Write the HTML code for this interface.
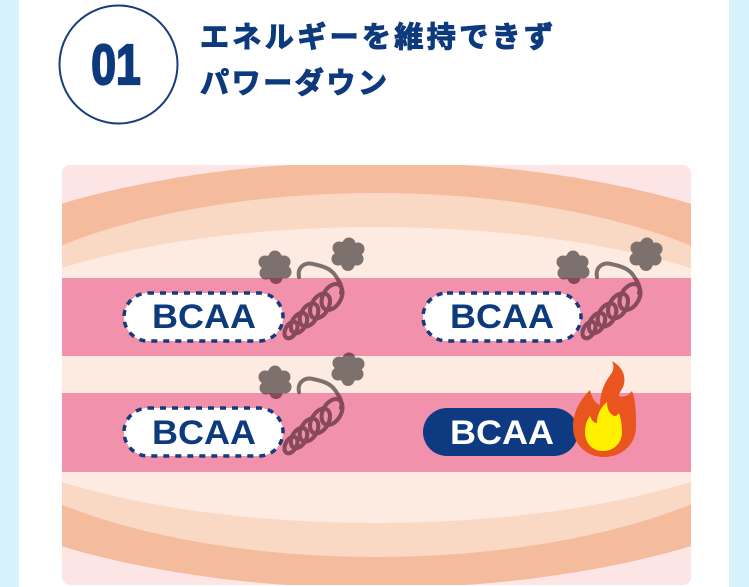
<!DOCTYPE html>
<html><head><meta charset="utf-8">
<style>
html,body{margin:0;padding:0;background:#d7f2fb;}
body{width:749px;height:587px;overflow:hidden;position:relative;}
svg{position:absolute;left:0;top:0;}
</style></head>
<body>
<svg width="749" height="587" viewBox="0 0 749 587" xmlns="http://www.w3.org/2000/svg">
  <defs>
    <clipPath id="box"><rect x="62" y="165" width="629" height="420" rx="8"/></clipPath>
    <clipPath id="stripes">
      <rect x="62" y="278" width="629" height="78"/>
      <rect x="62" y="393" width="629" height="79"/>
    </clipPath>
    <g id="grp">
      <g fill="currentColor">
        <circle cx="275" cy="267" r="13.5"/>
        <circle cx="275" cy="257" r="6.5"/>
        <circle cx="284" cy="262" r="6.5"/>
        <circle cx="285" cy="272" r="6.5"/>
        <circle cx="276" cy="277.5" r="6.5"/>
        <circle cx="266" cy="273" r="6.5"/>
        <circle cx="265" cy="262" r="6.5"/>
        <circle cx="348" cy="254" r="13.5"/>
        <circle cx="349" cy="244" r="6.5"/>
        <circle cx="358" cy="249" r="6.5"/>
        <circle cx="357" cy="259" r="6.5"/>
        <circle cx="348" cy="264.5" r="6.5"/>
        <circle cx="338" cy="259" r="6.5"/>
        <circle cx="339" cy="248" r="6.5"/>
      </g>
      <g fill="none" stroke="currentColor" stroke-width="4" stroke-linecap="round">
        <path d="M299,277 C297,267 305,262 313,264 C322,266 330,268 335,275 C340,282 343,288 341,293"/>
        <ellipse cx="332" cy="297" rx="14" ry="9" transform="rotate(-60 332 297)"/>
        <ellipse cx="320" cy="306" rx="13.5" ry="8.5" transform="rotate(-60 320 306)"/>
        <ellipse cx="309" cy="315" rx="12.5" ry="8" transform="rotate(-60 309 315)"/>
        <ellipse cx="299" cy="323" rx="11" ry="7" transform="rotate(-60 299 323)"/>
        <ellipse cx="291" cy="330" rx="9" ry="5.5" transform="rotate(-60 291 330)"/>
      </g>
    </g>
  </defs>

  <!-- white panel -->
  <rect x="19" y="0" width="710" height="587" fill="#ffffff"/>

  <!-- header -->
  <circle cx="118.5" cy="64.5" r="59" fill="none" stroke="#173d7c" stroke-width="2"/>
  <text transform="translate(116,84) scale(0.78,1)" text-anchor="middle" font-family="Liberation Sans, sans-serif" font-weight="700" font-size="57" fill="#0d3a7c" stroke="#0d3a7c" stroke-width="2.2">01</text>
  <text x="200" y="47" textLength="353" lengthAdjust="spacing" font-family="'Liberation Sans','Noto Sans CJK JP',sans-serif" font-weight="700" font-size="29" fill="#0d3a7c" stroke="#0d3a7c" stroke-width="1.1">エネルギーを維持できず</text>
  <text x="200" y="93" textLength="187" lengthAdjust="spacing" font-family="'Liberation Sans','Noto Sans CJK JP',sans-serif" font-weight="700" font-size="29" fill="#0d3a7c" stroke="#0d3a7c" stroke-width="1.1">パワーダウン</text>

  <!-- illustration -->
  <g clip-path="url(#box)">
    <rect x="62" y="165" width="629" height="420" fill="#fde4e5"/>
    <ellipse cx="376" cy="375" rx="529" ry="213" fill="#f4bb9d"/>
    <ellipse cx="376" cy="375" rx="448" ry="182" fill="#f9d8c4"/>
    <ellipse cx="376" cy="375" rx="455" ry="148" fill="#fdeae0"/>
    <rect x="62" y="278" width="629" height="78" fill="#f291ab"/>
    <rect x="62" y="393" width="629" height="79" fill="#f291ab"/>
  </g>

  <!-- pills -->
  <rect x="124" y="293" width="159" height="48" rx="24" fill="#fff" stroke="#163b7c" stroke-width="3.5" stroke-dasharray="6 6"/>
  <text x="204" y="328" text-anchor="middle" textLength="104" lengthAdjust="spacingAndGlyphs" font-family="Liberation Sans, sans-serif" font-weight="700" font-size="34" fill="#0d3a7c">BCAA</text>

  <rect x="423" y="293" width="158" height="48" rx="24" fill="#fff" stroke="#163b7c" stroke-width="3.5" stroke-dasharray="6 6"/>
  <text x="502" y="328" text-anchor="middle" textLength="104" lengthAdjust="spacingAndGlyphs" font-family="Liberation Sans, sans-serif" font-weight="700" font-size="34" fill="#0d3a7c">BCAA</text>

  <rect x="124" y="408" width="159" height="48" rx="24" fill="#fff" stroke="#163b7c" stroke-width="3.5" stroke-dasharray="6 6"/>
  <text x="204" y="444" text-anchor="middle" textLength="104" lengthAdjust="spacingAndGlyphs" font-family="Liberation Sans, sans-serif" font-weight="700" font-size="34" fill="#0d3a7c">BCAA</text>

  <rect x="423" y="408" width="155" height="48" rx="24" fill="#0d3a80"/>
  <text x="502" y="444" text-anchor="middle" textLength="104" lengthAdjust="spacingAndGlyphs" font-family="Liberation Sans, sans-serif" font-weight="700" font-size="34" fill="#ffffff">BCAA</text>

  <!-- smoke + springs -->
  <use href="#grp" style="color:#7c716d"/>
  <use href="#grp" style="color:#7c716d" transform="translate(298,0)"/>
  <use href="#grp" style="color:#7c716d" transform="translate(0,115)"/>
  <g clip-path="url(#stripes)">
    <use href="#grp" style="color:#88495c"/>
    <use href="#grp" style="color:#88495c" transform="translate(298,0)"/>
    <use href="#grp" style="color:#88495c" transform="translate(0,115)"/>
  </g>

  <!-- flame -->
  <path d="M604,457 C586,457 573,444 573,427 C573,412 580,400 590,390 C592,398 595,403 600,405 C600,392 605,382 611,374 C614,370 614,365 612,361 C621,366 626,374 624,384 C623,389 619,392 619,396 C623,398 628,396 632,391 C636,401 636,413 636,427 C636,444 622,457 604,457 Z" fill="#e9541f"/>
  <path d="M603,451 C592,451 585,443 585,432 C585,425 587,420 590,416 C592,421 594,423 597,423 C597,414 601,407 607,402 C607,410 610,414 614,416 C616,416 618,415 619,413 C621,419 622,425 622,432 C622,443 614,451 603,451 Z" fill="#fff000"/>
</svg>
</body></html>
